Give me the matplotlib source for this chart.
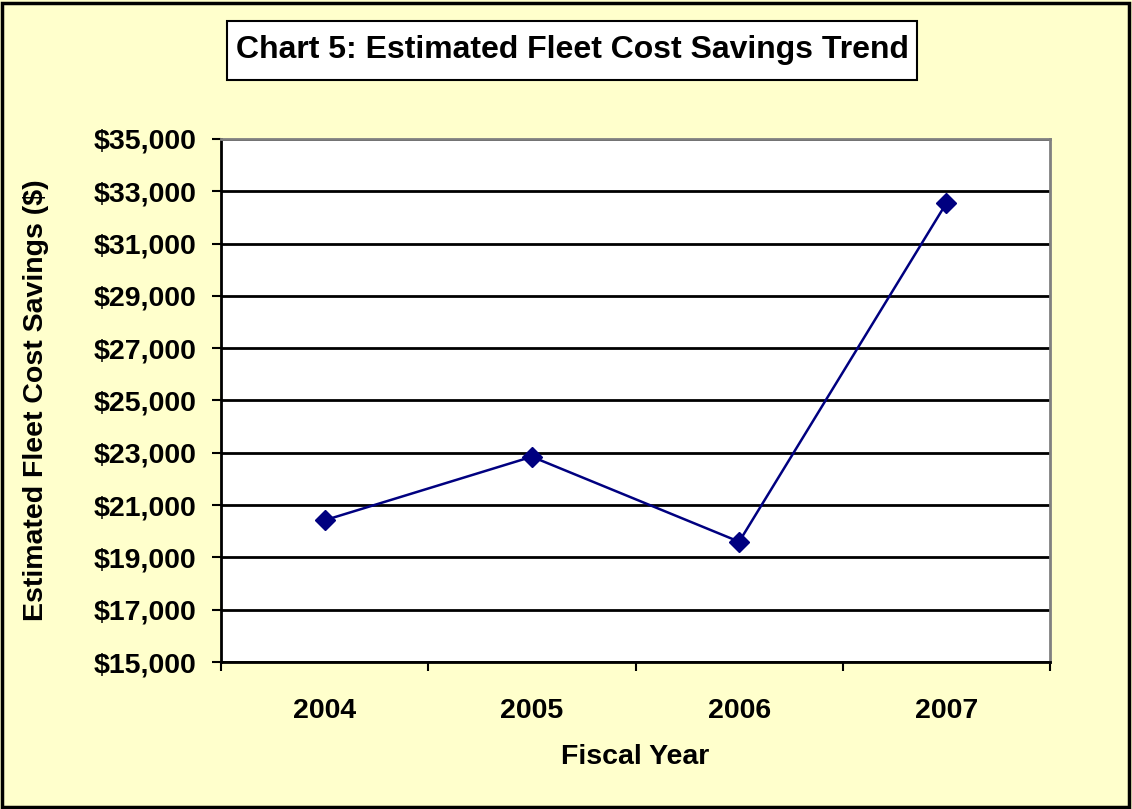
import matplotlib.pyplot as plt
import matplotlib.ticker as ticker
from matplotlib.patches import Rectangle

# data
years = ['2004', '2005', '2006', '2007']
savings = [20420, 22850, 19600, 32550]
y_ticks = list(range(15000, 35001, 2000))

plt.rcParams['font.family'] = ['Liberation Sans', 'DejaVu Sans']
plt.rcParams['font.weight'] = 'bold'

fig = plt.figure(figsize=(11.32, 8.09), dpi=100)
fig.patch.set_facecolor('#FFFFCC')

# outer border
fig.add_artist(Rectangle((0.002, 0.002), 0.995, 0.994, transform=fig.transFigure,
                         fill=False, edgecolor='black', linewidth=2.5))

ax = fig.add_axes([0.1952, 0.1817, 0.7324, 0.6465])
ax.set_facecolor('white')

x = range(len(years))
ax.plot(x, savings, color='#000080', linewidth=1.8, marker='D', markersize=10,
        markerfacecolor='#000080', markeredgecolor='#000080', zorder=3)

ax.set_xlim(-0.5, len(years) - 0.5)
ax.set_ylim(15000, 35000)
ax.set_yticks(y_ticks)
ax.yaxis.set_major_formatter(ticker.FuncFormatter(lambda v, p: f'${v:,.0f}'))
ax.set_xticks(list(x))
ax.set_xticklabels(years)
ax.set_xticks([i - 0.5 for i in range(len(years) + 1)], minor=True)

ax.grid(axis='y', color='black', linewidth=2)
ax.set_axisbelow(True)

ax.tick_params(axis='y', length=6.5, width=1.5, direction='out', labelsize=20.5, pad=11)
ax.tick_params(axis='x', which='major', length=0, labelsize=20.5, pad=26)
ax.tick_params(axis='x', which='minor', length=6.5, width=1.5, direction='out')

for s in ['left', 'bottom']:
    ax.spines[s].set_color('black')
    ax.spines[s].set_linewidth(2)
for s in ['top', 'right']:
    ax.spines[s].set_color('#808080')
    ax.spines[s].set_linewidth(2)

ax.set_xlabel('Fiscal Year', fontsize=20.5, fontweight='bold', labelpad=14)
ax.set_ylabel('Estimated Fleet Cost Savings ($)', fontsize=20.5, fontweight='bold', labelpad=32)

# title box
fig.add_artist(Rectangle((0.2005, 0.9011), 0.6095, 0.0729, transform=fig.transFigure,
                         facecolor='white', edgecolor='black', linewidth=1.5))
fig.text(0.5053, 0.9376, 'Chart 5: Estimated Fleet Cost Savings Trend', fontsize=23,
         fontweight='bold', ha='center', va='center')

fig.savefig('out.png', dpi=100, facecolor=fig.get_facecolor())
